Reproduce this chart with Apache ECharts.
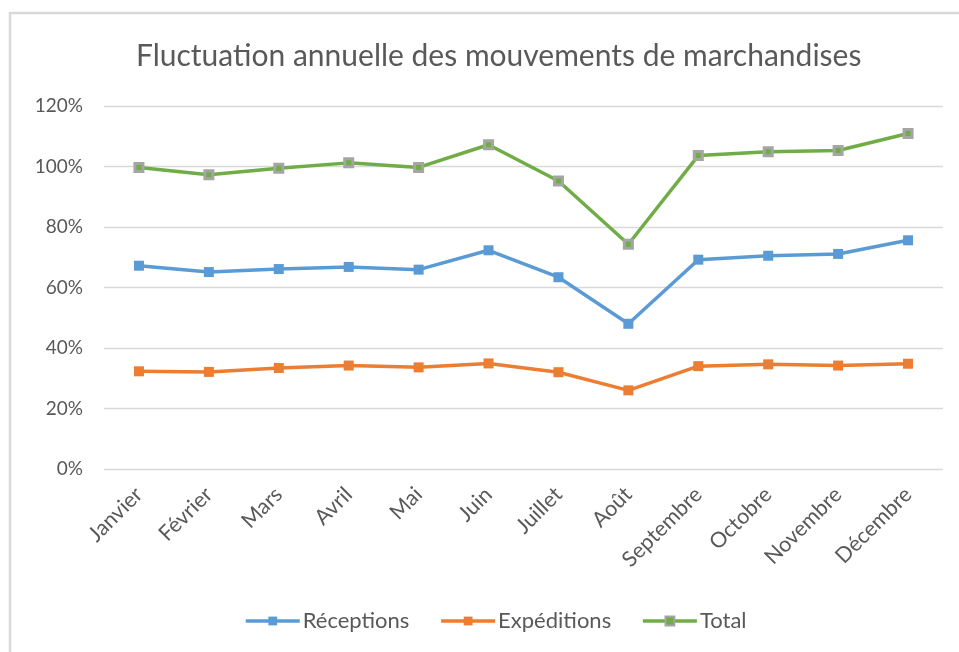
<!DOCTYPE html>
<html>
<head>
<meta charset="utf-8">
<script src="https://cdn.jsdelivr.net/npm/echarts@6/dist/echarts.min.js"></script>
<style>
  html, body { margin: 0; padding: 0; background: #fff; }
  #chart { width: 959px; height: 652px; }
</style>
</head>
<body>
<div id="chart"></div>
<script>
// Mois de l'année
const mois = ['Janvier', 'Février', 'Mars', 'Avril', 'Mai', 'Juin', 'Juillet', 'Août', 'Septembre', 'Octobre', 'Novembre', 'Décembre'];

// Valeurs en pourcentage
const receptions = [67.2, 65.1, 66.1, 66.8, 65.9, 72.3, 63.4, 48.0, 69.2, 70.5, 71.1, 75.6];
const expeditions = [32.3, 32.1, 33.4, 34.2, 33.6, 34.9, 32.0, 26.0, 34.0, 34.6, 34.2, 34.8];
const total = [99.7, 97.3, 99.4, 101.2, 99.7, 107.2, 95.2, 74.3, 103.6, 104.9, 105.3, 110.9];

const FONT = 'Lato';
const TXT = '#595959';

const chart = echarts.init(document.getElementById('chart'), null, { renderer: 'canvas' });

chart.setOption({
  backgroundColor: '#ffffff',
  animation: false,
  title: {
    text: 'Fluctuation annuelle des mouvements de marchandises',
    left: 131,
    top: 36,
    textStyle: { fontFamily: FONT, fontSize: 30, fontWeight: 'normal', color: TXT }
  },
  graphic: [{
    type: 'rect',
    shape: { x: 10, y: 13, width: 960, height: 660 },
    style: { fill: 'none', stroke: '#d9d9d9', lineWidth: 2.5 },
    silent: true
  }],
  legend: {
    bottom: 20,
    left: 244,
    padding: 0,
    itemWidth: 54,
    itemHeight: 11,
    itemGap: 30,
    lineStyle: { width: 3.5 },
    textStyle: { fontFamily: FONT, fontSize: 22, color: TXT, padding: [0, 0, 0, -2] },
    data: ['Réceptions', 'Expéditions', 'Total']
  },
  grid: { left: 104, right: 16, top: 106, bottom: 183 },
  xAxis: {
    type: 'category',
    data: mois,
    boundaryGap: true,
    axisLine: { show: false },
    axisTick: { show: false },
    axisLabel: {
      rotate: 45,
      margin: 22,
      interval: 0,
      fontFamily: FONT,
      fontSize: 21.5,
      color: TXT
    }
  },
  yAxis: {
    type: 'value',
    min: 0,
    max: 120,
    interval: 20,
    axisLine: { show: false },
    axisTick: { show: false },
    axisLabel: {
      formatter: '{value}%',
      margin: 21,
      fontFamily: FONT,
      fontSize: 19,
      color: TXT
    },
    splitLine: { lineStyle: { color: '#d9d9d9', width: 1.3 } }
  },
  series: [
    {
      name: 'Réceptions',
      type: 'line',
      data: receptions,
      symbol: 'rect',
      symbolSize: 10,
      lineStyle: { color: '#5b9bd5', width: 3.5 },
      itemStyle: { color: '#5b9bd5' }
    },
    {
      name: 'Expéditions',
      type: 'line',
      data: expeditions,
      symbol: 'rect',
      symbolSize: 10,
      lineStyle: { color: '#ed7d31', width: 3.5 },
      itemStyle: { color: '#ed7d31' }
    },
    {
      name: 'Total',
      type: 'line',
      data: total,
      symbol: 'rect',
      symbolSize: 8,
      lineStyle: { color: '#70ad47', width: 3.5 },
      itemStyle: { color: '#70ad47', borderColor: '#a5a5a5', borderWidth: 3 }
    }
  ]
});
</script>
</body>
</html>
